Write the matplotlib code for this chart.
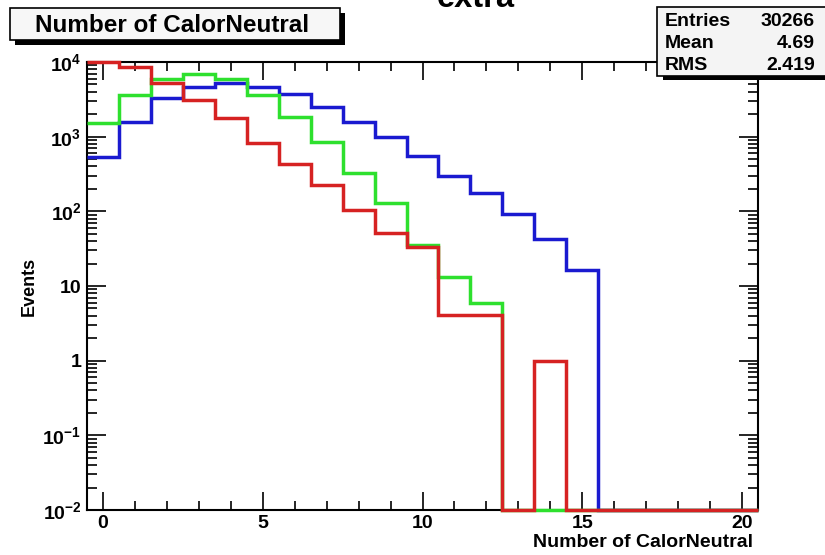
import matplotlib
matplotlib.use("Agg")
import matplotlib.pyplot as plt
import numpy as np
from matplotlib.patches import Rectangle
from matplotlib.ticker import MultipleLocator, LogLocator, NullFormatter

# fonts: ROOT-like bold Helvetica look
plt.rcParams["font.family"] = ["Liberation Sans", "DejaVu Sans"]
plt.rcParams["font.weight"] = "bold"
plt.rcParams["mathtext.fontset"] = "custom"
plt.rcParams["mathtext.rm"] = "Liberation Sans:bold"
plt.rcParams["mathtext.it"] = "Liberation Sans:bold"
plt.rcParams["mathtext.bf"] = "Liberation Sans:bold"

# ---- data ----
n_calor = list(range(0, 21))  # bin centres 0..20
blue_counts = [540, 1590, 3270, 4680, 5280, 4680, 3700, 2520, 1590, 1000, 550,
               298, 175, 92, 42, 16.5, 0, 0, 0, 0, 0]
green_counts = [1510, 3620, 5920, 6900, 5920, 3620, 1850, 860, 323, 128, 35,
                13, 5.9, 0, 0, 0, 0, 0, 0, 0, 0]
red_counts = [10000, 8650, 5280, 3100, 1760, 817, 431, 225, 104, 52, 33,
              4.1, 4.1, 0, 1, 0, 0, 0, 0, 0, 0]

stat_names = ["Entries", "Mean", "RMS"]
stat_values = ["30266", "4.69", "2.419"]

y_ticks = [1e-2, 1e-1, 1, 10, 1e2, 1e3, 1e4]
y_labels = [r"$10^{-2}$", r"$10^{-1}$", "1", "10", r"$10^{2}$", r"$10^{3}$", r"$10^{4}$"]
x_ticks = [0, 5, 10, 15, 20]

W, H = 825, 555
fig = plt.figure(figsize=(W / 100, H / 100), dpi=100)
fig.patch.set_facecolor("white")

# axes frame in pixels: left 87, right 758, top 62, bottom 510
ax = fig.add_axes([87 / W, 1 - 510 / H, (758 - 87) / W, (510 - 62) / H])

edges = np.array(n_calor + [n_calor[-1] + 1]) - 0.5
floor = 1e-2
for counts, color in [(blue_counts, "#1a1ad0"),
                      (green_counts, "#2ee02e"),
                      (red_counts, "#d62222")]:
    c = np.array(counts, dtype=float)
    vals = np.where(c > 0, c, floor)  # ROOT draws empty bins on the axis floor
    ax.stairs(vals, edges, baseline=None, color=color, lw=2.5,
              clip_on=False, zorder=3)

ax.set_yscale("log")
ax.set_xlim(edges[0], edges[-1])
ax.set_ylim(floor, 1e4)

ax.set_yticks(y_ticks, labels=y_labels)
ax.yaxis.set_minor_locator(LogLocator(base=10, subs=np.arange(2, 10), numticks=30))
ax.yaxis.set_minor_formatter(NullFormatter())
ax.set_xticks(x_ticks)
ax.xaxis.set_minor_locator(MultipleLocator(1))

ax.tick_params(which="both", direction="in", top=True, right=True,
               labelsize=14, width=1.2, color="black")
ax.tick_params(axis="y", which="major", length=14, pad=4)
ax.tick_params(axis="y", which="minor", length=7)
ax.tick_params(axis="x", which="major", length=13, pad=3.5)
ax.tick_params(axis="x", which="minor", length=6.5)
for s in ax.spines.values():
    s.set_linewidth(1.5)

ax.set_ylabel("Events", fontsize=13, fontweight="bold")
ax.yaxis.set_label_coords(-0.074, 0.5)
ax.set_xlabel("Number of CalorNeutral", fontsize=14, fontweight="bold",
              ha="right", va="baseline")
ax.xaxis.set_label_coords(0.9925, -(547 - 510) / 448)


def px_rect(x0, y0, x1, y1, **kw):
    fig.add_artist(Rectangle((x0 / W, 1 - y1 / H), (x1 - x0) / W, (y1 - y0) / H,
                             transform=fig.transFigure, **kw))


# title box with shadow
px_rect(15, 13, 345, 45, facecolor="black", edgecolor="none", zorder=5)
px_rect(10, 8, 340, 40, facecolor="#f7f7f7", edgecolor="black", lw=1.2, zorder=6)
fig.text(172 / W, 1 - 32 / H, "Number of CalorNeutral", ha="center", va="baseline",
         fontsize=17.5, fontweight="bold", zorder=7)

# "extra" title, mostly off the top of the canvas
fig.text(476 / W, 1 - 7 / H, "extra", ha="center", va="baseline",
         fontsize=23.5, fontweight="bold")

# stats box with shadow
px_rect(663, 12, 835, 80, facecolor="black", edgecolor="none", zorder=5)
px_rect(657, 7, 830, 76, facecolor="#f4f4f4", edgecolor="black", lw=1.2, zorder=6)
for name, val, yb in zip(stat_names, stat_values, [26, 48, 70]):
    fig.text(665 / W, 1 - yb / H, name, ha="left", va="baseline",
             fontsize=14, fontweight="bold", zorder=7)
    fig.text(815 / W, 1 - yb / H, val, ha="right", va="baseline",
             fontsize=14, fontweight="bold", zorder=7)

fig.savefig("out.png", dpi=100)
